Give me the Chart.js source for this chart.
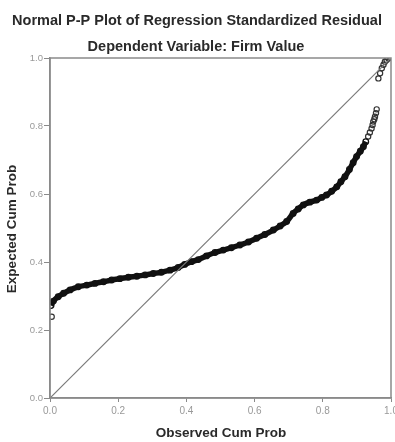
<!DOCTYPE html>
<html>
<head>
<meta charset="utf-8">
<script src="https://cdn.jsdelivr.net/npm/chart.js@4"></script>
<style>
  html, body { margin: 0; padding: 0; background: #fff; }
  #wrap { width: 395px; height: 442px; position: relative; }
</style>
</head>
<body>
<div id="wrap"><canvas id="ppChart" width="395" height="442"></canvas></div>
<script>
// ============================================
// DATA
// ============================================

// dense band of residual points: [observed, expected]
const bandObserved = [0.003, 0.010, 0.024, 0.040, 0.059, 0.083, 0.108, 0.132, 0.157, 0.181,
    0.205, 0.230, 0.255, 0.279, 0.303, 0.327, 0.352, 0.376, 0.395, 0.415,
    0.435, 0.459, 0.484, 0.508, 0.532, 0.557, 0.582, 0.606, 0.630, 0.655,
    0.675, 0.694, 0.713, 0.728, 0.743, 0.762, 0.782, 0.797, 0.811, 0.826,
    0.841, 0.853, 0.865, 0.878, 0.889, 0.899, 0.910, 0.919, 0.926];
const bandExpected = [0.272, 0.285, 0.298, 0.308, 0.318, 0.327, 0.332, 0.337, 0.342, 0.347,
    0.351, 0.355, 0.358, 0.362, 0.366, 0.370, 0.376, 0.384, 0.393, 0.401,
    0.407, 0.418, 0.428, 0.435, 0.442, 0.450, 0.459, 0.470, 0.481, 0.494,
    0.506, 0.519, 0.543, 0.556, 0.568, 0.576, 0.582, 0.590, 0.597, 0.608,
    0.621, 0.636, 0.651, 0.672, 0.692, 0.710, 0.726, 0.739, 0.754];

// sparse points where single circles are visible
const openObserved = [0.005, 0.933, 0.938, 0.943, 0.946, 0.948, 0.951, 0.953, 0.956, 0.958,
    0.963, 0.968, 0.973, 0.978, 0.982, 0.987, 0.992, 0.997];
const openExpected = [0.239, 0.769, 0.781, 0.793, 0.803, 0.813, 0.820, 0.827, 0.838, 0.849,
    0.940, 0.955, 0.970, 0.980, 0.989, 0.994, 0.999, 1.000];

// reference diagonal
const diagObserved = [0, 1];
const diagExpected = [0, 1];

const tickValues = [0, 0.2, 0.4, 0.6, 0.8, 1.0];

const chartTitle = 'Normal P-P Plot of Regression Standardized Residual';
const chartSubtitle = 'Dependent Variable: Firm Value';
const xTitle = 'Observed Cum Prob';
const yTitle = 'Expected Cum Prob';

// ============================================
// CHART
// ============================================

const toPoints = (xs, ys) => xs.map((x, i) => ({ x: x, y: ys[i] }));
const FONT = '"Liberation Sans", Arial, sans-serif';
const AXIS_GRAY = '#8a8a8a';

// frame + titles drawn on top of the chart
const frameAndTitles = {
    id: 'frameAndTitles',
    afterDraw(chart) {
        const { ctx, chartArea: a } = chart;
        ctx.save();
        ctx.strokeStyle = AXIS_GRAY;
        ctx.lineWidth = 1.5;
        ctx.strokeRect(a.left, a.top, a.right - a.left, a.bottom - a.top);

        ctx.fillStyle = '#2a2a2a';
        ctx.textAlign = 'center';
        ctx.textBaseline = 'middle';
        ctx.font = 'bold 14.5px ' + FONT;
        ctx.fillText(chartTitle, 197, 21);
        ctx.font = 'bold 14.5px ' + FONT;
        ctx.fillText(chartSubtitle, 196, 47);
        ctx.font = 'bold 13.5px ' + FONT;
        ctx.fillText(xTitle, 221, 433);

        ctx.translate(12, 229);
        ctx.rotate(-Math.PI / 2);
        ctx.fillText(yTitle, 0, 0);
        ctx.restore();
    }
};

const ctx = document.getElementById('ppChart');

new Chart(ctx, {
    type: 'scatter',
    data: {
        datasets: [
            {
                label: 'diagonal',
                data: toPoints(diagObserved, diagExpected),
                showLine: true,
                borderColor: '#7a7a7a',
                borderWidth: 1.2,
                pointRadius: 0
            },
            {
                label: 'band',
                data: toPoints(bandObserved, bandExpected),
                showLine: true,
                tension: 0.3,
                borderColor: '#111',
                borderWidth: 5.5,
                pointRadius: 2.8,
                pointBorderWidth: 1.3,
                pointBorderColor: '#111',
                pointBackgroundColor: 'rgba(0,0,0,0)'
            },
            {
                label: 'points',
                data: toPoints(openObserved, openExpected),
                showLine: false,
                pointRadius: 2.6,
                pointBorderWidth: 1.2,
                pointBorderColor: '#333',
                pointBackgroundColor: 'rgba(255,255,255,0)'
            }
        ]
    },
    options: {
        responsive: false,
        animation: false,
        events: [],
        layout: {
            autoPadding: false,
            padding: { top: 58, right: 4, left: 0, bottom: 0 }
        },
        plugins: {
            legend: { display: false },
            tooltip: { enabled: false }
        },
        scales: {
            x: {
                type: 'linear',
                min: 0,
                max: 1,
                afterFit: (scale) => {
                    scale.height = 44;
                    // let the 1.0 label run off the edge like the original
                    scale.paddingLeft = 0;
                    scale.paddingRight = 0;
                },
                afterBuildTicks: (scale) => { scale.ticks = tickValues.map(v => ({ value: v })); },
                ticks: {
                    color: '#999',
                    font: { family: FONT, size: 10 },
                    padding: 3,
                    maxRotation: 0,
                    callback: (v) => v.toFixed(1)
                },
                grid: {
                    drawOnChartArea: false,
                    color: AXIS_GRAY,
                    tickLength: 4
                },
                border: { color: AXIS_GRAY, width: 1.5 }
            },
            y: {
                type: 'linear',
                min: 0,
                max: 1,
                afterFit: (scale) => {
                    scale.width = 50;
                    scale.paddingTop = 0;
                    scale.paddingBottom = 0;
                },
                afterBuildTicks: (scale) => { scale.ticks = tickValues.map(v => ({ value: v })); },
                ticks: {
                    color: '#999',
                    font: { family: FONT, size: 9.5 },
                    padding: 1,
                    callback: (v) => v.toFixed(1)
                },
                grid: {
                    drawOnChartArea: false,
                    color: AXIS_GRAY,
                    tickLength: 6
                },
                border: { color: AXIS_GRAY, width: 1.5 }
            }
        }
    },
    plugins: [frameAndTitles]
});
</script>
</body>
</html>
